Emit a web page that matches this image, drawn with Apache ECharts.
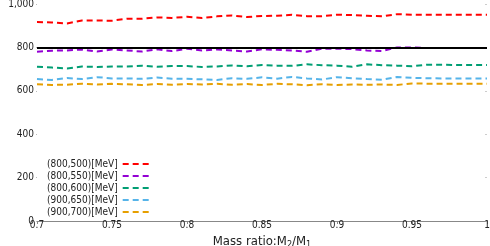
<!DOCTYPE html>
<html><head><meta charset="utf-8">
<script src="https://cdn.jsdelivr.net/npm/echarts@6/dist/echarts.min.js"></script>
<style>html,body{margin:0;padding:0;background:#fff}#c{width:490px;height:246px}</style>
</head><body><div id="c"></div>
<script>
const ratios = [0.70,0.71,0.72,0.73,0.74,0.75,0.76,0.77,0.78,0.79,0.80,0.81,0.82,0.83,0.84,0.85,0.86,0.87,0.88,0.89,0.90,0.91,0.92,0.93,0.94,0.95,0.96,0.97,0.98,0.99,1.00];
const s800_500 = [917,915,910,924,924,923,932,932,938,936,941,935,943,947,940,945,946,950,944,944,951,949,946,943,953,951,951,951,951,951,951];
const s800_550 = [780,785,786,790,781,790,786,781,791,783,794,786,790,786,781,791,789,786,780,794,794,792,786,783,800,800,797,797,797,797,797];
const s800_600 = [711,707,703,712,710,712,712,716,711,714,714,710,712,717,713,719,716,715,722,718,716,711,722,718,716,713,720,720,719,719,719];
const s900_650 = [654,650,659,654,663,657,657,655,661,656,655,653,650,658,655,662,656,664,657,652,663,658,654,651,664,660,658,657,657,657,657];
const s900_700 = [630,627,628,633,629,632,630,627,631,628,631,629,632,628,631,627,632,630,626,630,627,629,628,629,627,634,633,633,633,633,633];
const seriesNames = ['(800,500)[MeV]','(800,550)[MeV]','(800,600)[MeV]','(900,650)[MeV]','(900,700)[MeV]'];
const seriesColors = ['#ff0000','#9400d3','#009e73','#56b4e9','#e69f00'];
const refValue = 800;
const xTicks = {min:0.7, max:1.0, interval:0.05};
const yTicks = {min:0, max:1000, interval:200};

const allData = [s800_500,s800_550,s800_600,s900_650,s900_700];
const FONT = '"DejaVu Sans Condensed","DejaVu Sans",sans-serif';
const chart = echarts.init(document.getElementById('c'));
const series = allData.map((d,i)=>({
  name: seriesNames[i], type:'line', symbol:'none', smooth:false,
  data: d.map((v,j)=>[ratios[j], v]),
  lineStyle:{color:seriesColors[i], width:2, type:[6,4]},
  itemStyle:{color:seriesColors[i]},
  z: 3
}));
series[0].markLine = {
  silent:true, symbol:['none','none'], label:{show:false},
  lineStyle:{color:'#000', width:2, type:'solid'},
  data:[{yAxis:refValue}], animation:false
};
chart.setOption({
  animation:false,
  backgroundColor:'#fff',
  textStyle:{fontFamily:FONT},
  grid:{left:37, right:3, top:4, bottom:25, containLabel:false, outerBoundsMode:'none'},
  legend:{
    orient:'vertical', left:42, top:154, align:'right',
    itemWidth:26, itemHeight:10, itemGap:2,
    itemStyle:{opacity:0},
    textStyle:{fontFamily:FONT, fontSize:10, color:'#222'},
    data: seriesNames
  },
  xAxis:[{
    type:'value', min:xTicks.min, max:xTicks.max, interval:xTicks.interval,
    axisLine:{show:false}, splitLine:{show:false},
    axisTick:{show:false},
    axisLabel:{fontFamily:FONT, fontSize:10, color:'#222', margin:-1,
      formatter:v=>String(+v.toFixed(2))},
    name:'{a|Mass ratio:M}{s|2}{a|/M}{s|1}', nameLocation:'middle', nameGap:0,
    nameTextStyle:{rich:{a:{fontFamily:FONT, fontSize:13, color:'#222', lineHeight:14}, s:{fontFamily:FONT, fontSize:9, color:'#222', lineHeight:14, padding:[5,0,0,0]}}}
  },{
    type:'value', position:'top', min:xTicks.min, max:xTicks.max, interval:xTicks.interval,
    axisLine:{show:true, lineStyle:{color:'#888', width:1}},
    axisTick:{show:true, inside:true, length:3, lineStyle:{color:'#888'}},
    axisLabel:{show:false}, splitLine:{show:false}
  }],
  yAxis:[{
    type:'value', min:yTicks.min, max:yTicks.max, interval:yTicks.interval,
    axisLine:{show:false}, splitLine:{show:false},
    axisTick:{show:true, length:1, lineStyle:{color:'#bbb'}},
    axisLabel:{fontFamily:FONT, fontSize:10, color:'#222', margin:3},
    name:'{a|Λ}{s|bi}', nameLocation:'middle', nameGap:23, nameRotate:90,
    nameTextStyle:{rich:{a:{fontFamily:FONT, fontSize:14, color:'#222'}, s:{fontFamily:FONT, fontSize:10, color:'#222', padding:[6,0,0,0]}}}
  },{
    type:'value', position:'right', min:yTicks.min, max:yTicks.max, interval:yTicks.interval,
    axisLine:{show:false}, splitLine:{show:false},
    axisTick:{show:true, inside:true, length:2, lineStyle:{color:'#ccc'}},
    axisLabel:{show:false}
  }],
  series: series
});
</script></body></html>
